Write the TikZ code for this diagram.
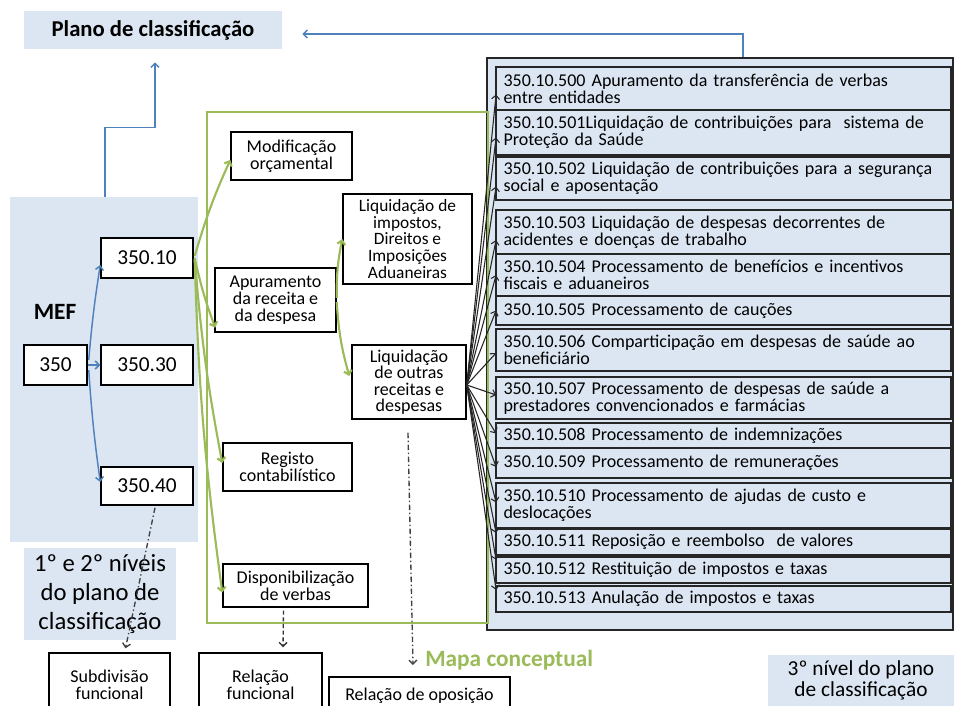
\documentclass[tikz,border=0pt]{standalone}
\usepackage{fontspec}
\setmainfont{Carlito}
\usetikzlibrary{arrows.meta,calc}
\definecolor{lb}{HTML}{DCE6F2}
\definecolor{bl}{HTML}{4F81BD}
\definecolor{gr}{HTML}{9BBB59}
% style, name, x1, y1, x2, y2, text
\newcommand\pbox[7]{\node[#1, minimum width={(#5-#3)*0.75pt}, minimum height={(#6-#4)*0.75pt}] (#2) at ({(#3+#5)/2},{(#4+#6)/2}) {#7};}
\newcommand\rbx[4]{\pbox{rbox}{#1}{496}{#2}{951}{#3}{#4}}
\begin{document}
\begin{tikzpicture}[x=0.75pt,y=-0.75pt,
 font=\fontsize{13.5}{12.75}\selectfont,
 box/.style={draw=black, line width=1.1pt, fill=white, align=center, inner sep=1pt},
 rbox/.style={draw=black!85, line width=1.4pt, fill=lb, align=left, text width=330pt, inner xsep=4pt, inner ysep=0pt, font=\fontsize{13.5}{12.5}\selectfont},
 region/.style={fill=lb, inner sep=0pt, align=center},
 tipa/.style={-{Straight Barb[length=3pt,width=6pt]}},
 blarr/.style={tipa, draw=bl, line width=1.1pt},
 grarr/.style={tipa, draw=gr, line width=1.6pt},
 bkarr/.style={tipa, draw=black!85, line width=0.8pt},
 dd/.style={tipa, draw=black!75, line width=1pt, dash pattern=on 4pt off 2pt on 1pt off 2pt},
 dsh/.style={tipa, draw=black!80, line width=1pt, dash pattern=on 3pt off 2pt}]
\clip (0,0) rectangle (954,706);
\fill[white] (0,0) rectangle (954,706);

% background regions
\pbox{region, font=\fontsize{17}{20}\selectfont\bfseries}{plano}{24}{11}{282}{49}{Plano de classificação}
\pbox{region}{mef}{10}{197}{198}{542}{}
\pbox{region, font=\fontsize{18.5}{22}\selectfont}{lvl12}{24}{548}{176}{640}{1º e 2º níveis\\do plano de\\classificação}
\pbox{region, font=\fontsize{16}{16}\selectfont}{lvl3}{768}{655}{954}{706}{3º nível do plano\\de classificação}
\pbox{draw=black!85, line width=1.5pt, fill=lb, inner sep=0pt}{cont}{487}{58}{953}{630}{}
\pbox{draw=gr, line width=1.1pt, inner sep=0pt}{frame}{207}{112}{488}{623}{}

% MEF level
\node[font=\fontsize{17.5}{20}\selectfont\bfseries] (meflbl) at (55,312) {MEF};
\pbox{box, font=\fontsize{16}{18}\selectfont}{n350}{24}{345}{87}{385}{350}
\pbox{box, font=\fontsize{16}{18}\selectfont}{n10}{101}{238}{193}{278}{350.10}
\pbox{box, font=\fontsize{16}{18}\selectfont}{n30}{101}{345}{193}{385}{350.30}
\pbox{box, font=\fontsize{16}{18}\selectfont}{n40}{101}{467}{193}{505}{350.40}

% conceptual map boxes
\pbox{box}{modif}{231}{132}{352}{180}{Modificação\\orçamental}
\pbox{box}{apur}{215}{268}{336}{332}{Apuramento\\da receita e\\da despesa}
\pbox{box, font=\fontsize{13}{12.4}\selectfont}{impos}{343}{194}{472}{284}{Liquidação de\\impostos,\\Direitos e\\Imposições\\Aduaneiras}
\pbox{box, font=\fontsize{13.5}{12.4}\selectfont}{outras}{352}{345}{466}{419}{Liquidação\\de outras\\receitas e\\despesas}
\pbox{box}{reg}{223}{443}{352}{491}{Registo\\contabilístico}
\pbox{box}{disp}{223}{564}{368}{607}{Disponibilização\\de verbas}

% bottom boxes
\pbox{box}{subd}{49}{653}{170}{716}{Subdivisão\\funcional}
\pbox{box}{relf}{199}{653}{322}{716}{Relação\\funcional}
\pbox{box, text depth=0pt}{relo}{329}{677}{510}{712}{Relação de oposição}
\node[anchor=west, text=gr, font=\fontsize{17.5}{20}\selectfont\bfseries, inner sep=0pt] (mapa) at (425,660) {Mapa conceptual};

% third level boxes
\rbx{r500}{67}{110}{350.10.500 Apuramento da transferência de verbas\\entre entidades}
\rbx{r501}{110}{155}{350.10.501Liquidação de contribuições para\ \ sistema de\\Proteção da Saúde}
\rbx{r502}{157}{200}{350.10.502 Liquidação de contribuições para a segurança\\social e aposentação}
\rbx{r503}{210}{254}{350.10.503 Liquidação de despesas decorrentes de\\acidentes e doenças de trabalho}
\rbx{r504}{254}{296}{350.10.504 Processamento de benefícios e incentivos\\fiscais e aduaneiros}
\rbx{r505}{296}{325}{350.10.505 Processamento de cauções}
\rbx{r506}{329}{371}{350.10.506 Comparticipação em despesas de saúde ao\\beneficiário}
\rbx{r507}{377}{419}{350.10.507 Processamento de despesas de saúde a\\prestadores convencionados e farmácias}
\rbx{r508}{423}{448}{350.10.508 Processamento de indemnizações}
\rbx{r509}{448}{478}{350.10.509 Processamento de remunerações}
\rbx{r510}{483}{528}{350.10.510 Processamento de ajudas de custo e\\deslocações}
\rbx{r511}{529}{555}{350.10.511 Reposição e reembolso\ \ de valores}
\rbx{r512}{557}{583}{350.10.512 Restituição de impostos e taxas}
\rbx{r513}{586}{612}{350.10.513 Anulação de impostos e taxas}

% blue connectors
\draw[blarr] ($(cont.north)+(23,0)$) |- ($(plano.east)+(20,4)$);
\draw[blarr] ($(mef.north)+(1,0)$) -- ++(0,-69) -| ($(plano.south)+(2,13)$);
\draw[blarr] ($(n350.east)+(1,-5)$) to[bend left=2] ($(n10.west)+(0,7)$);
\draw[blarr] (n350.east) -- (n30.west);
\draw[blarr] ($(n350.east)+(1,5)$) to[bend right=2] ($(n40.west)+(0,-4)$);

% green connectors
\draw[grarr] ($(n10.east)+(1,-2)$) to[bend left=4] ($(modif.west)+(0,4)$);
\draw[grarr] ($(n10.east)+(1,0)$) to[bend right=4] ($(apur.south west)+(1,-5)$);
\draw[grarr] ($(n10.east)+(1,1)$) to[bend right=3] ($(reg.west)+(0,-4)$);
\draw[grarr] ($(n10.east)+(1,2)$) to[bend right=3] ($(disp.west)+(0,7)$);
\draw[grarr] ($(apur.east)+(0,-2)$) to[bend left=6] (impos.west);
\draw[grarr] ($(apur.east)+(0,2)$) to[bend right=6] ($(outras.west)+(-2,-6)$);

% black connectors to third level
\foreach \n/\d in {r500/6,r501/5,r502/8,r503/8,r504/0,r505/0,r506/3,r507/-3,r508/-2,r509/4,r510/-3,r511/-9,r512/-10,r513/-9}
  \draw[bkarr] ($(outras.east)+(0,3)$) -- ($(\n.west)+(1,\d)$);

% dashed connectors
\draw[dd] ($(n40.south)+(8,2)$) -- ($(subd.north)+(16,-4)$);
\draw[dsh] ($(disp.south)+(-12,3)$) -- ($(relf.north)+(22.5,-5)$);
\draw[dd] ($(outras.south)+(-1,13)$) -- ($(mapa.west)+(-12,5)$);
\end{tikzpicture}
\end{document}
